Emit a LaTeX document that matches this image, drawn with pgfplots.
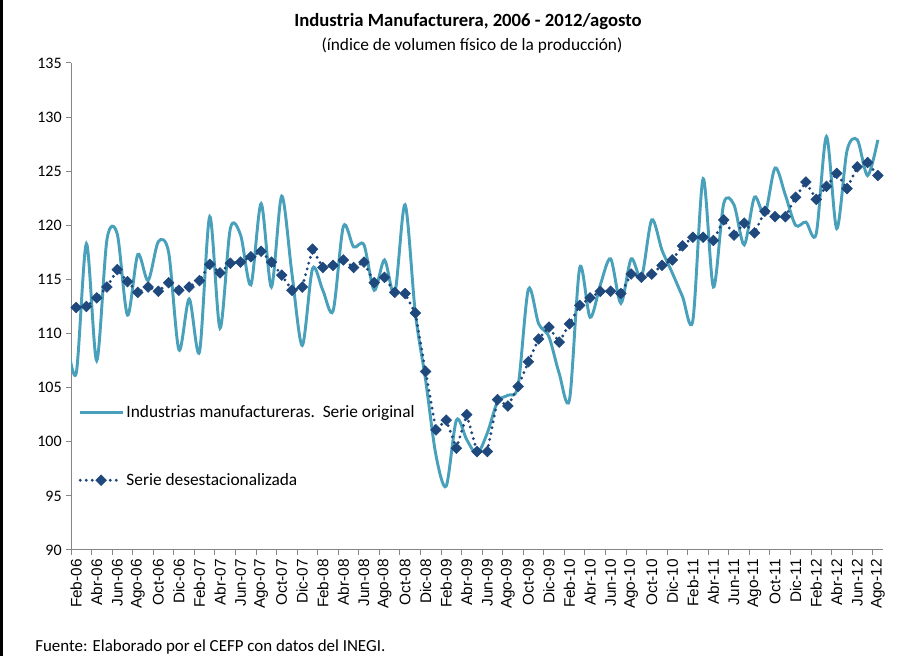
\documentclass[border=0pt]{standalone}
\usepackage{fontspec}
\setmainfont{Carlito}
\newfontfamily\arialf{Liberation Sans}
\usepackage{pgfplots}
\pgfplotsset{compat=1.18}
\usepackage{pgfplotstable}
\definecolor{orig}{RGB}{72,160,186}
\definecolor{desest}{RGB}{31,73,125}
\definecolor{axgray}{RGB}{134,134,134}

\pgfplotstableread{
i orig des
0 110.0 113.4
1 106.3 112.4
2 118.3 112.5
3 107.5 113.3
4 118.7 114.3
5 119.2 115.9
6 111.7 114.8
7 117.3 113.8
8 114.9 114.3
9 118.5 113.9
10 117.5 114.7
11 108.5 114.0
12 113.2 114.3
13 108.3 114.9
14 120.8 116.4
15 110.5 115.6
16 119.7 116.5
17 119.1 116.6
18 114.5 117.1
19 122.0 117.6
20 114.3 116.6
21 122.7 115.4
22 115.5 114.0
23 108.9 114.3
24 116.0 117.8
25 114.0 116.1
26 112.1 116.3
27 119.9 116.8
28 118.0 116.1
29 118.2 116.6
30 114.0 114.7
31 116.8 115.2
32 113.7 113.8
33 121.9 113.7
34 111.9 111.9
35 105.7 106.5
36 98.8 101.1
37 95.9 102.0
38 102.0 99.4
39 100.2 102.5
40 98.9 99.1
41 100.8 99.1
42 103.7 103.9
43 104.3 103.3
44 105.2 105.1
45 114.1 107.4
46 110.9 109.5
47 109.7 110.6
48 106.3 109.2
49 103.9 110.9
50 116.1 112.6
51 111.5 113.3
52 114.5 113.9
53 116.9 113.9
54 112.8 113.7
55 116.9 115.5
56 115.2 115.2
57 120.5 115.5
58 117.7 116.3
59 115.6 116.8
60 113.4 118.1
61 111.2 118.9
62 124.3 118.9
63 114.3 118.6
64 122.0 120.5
65 121.9 119.1
66 118.2 120.2
67 122.6 119.3
68 121.0 121.3
69 125.3 120.8
70 122.8 120.8
71 120.0 122.6
72 120.3 124.0
73 119.2 122.4
74 128.2 123.6
75 119.7 124.8
76 126.9 123.4
77 127.9 125.4
78 124.6 125.8
79 127.9 124.6
}\datatable

\begin{document}
\begin{tikzpicture}
\path[use as bounding box] (0,0) rectangle (674.25pt,492pt);
\draw[black, line width=2pt] (1pt,0) -- (1pt,492pt);
\node[font=\bfseries\fontsize{14}{16}\selectfont] at (351pt,475.5pt) {Industria Manufacturera, 2006 - 2012/agosto};
\node[font=\fontsize{13}{15}\selectfont] at (354pt,457.5pt) {(índice de volumen físico de la producción)};
\node[font=\fontsize{12.7}{14}\selectfont, anchor=west, inner sep=0pt] at (26.25pt,6.75pt) {Fuente: Elaborado por el CEFP con datos del INEGI.};
\begin{axis}[
  at={(53.25pt,79.5pt)}, anchor=south west,
  scale only axis, width=609pt, height=365.25pt,
  xmin=0.5, xmax=79.5, ymin=90, ymax=135,
  ytick={90,95,...,135},
  xtick={1,3,...,79},
  xticklabels={Feb-06,Abr-06,Jun-06,Ago-06,Oct-06,Dic-06,
    Feb-07,Abr-07,Jun-07,Ago-07,Oct-07,Dic-07,
    Feb-08,Abr-08,Jun-08,Ago-08,Oct-08,Dic-08,
    Feb-09,Abr-09,Jun-09,Ago-09,Oct-09,Dic-09,
    Feb-10,Abr-10,Jun-10,Ago-10,Oct-10,Dic-10,
    Feb-11,Abr-11,Jun-11,Ago-11,Oct-11,Dic-11,
    Feb-12,Abr-12,Jun-12,Ago-12},
  minor xtick={0.5,2.5,...,78.5},
  major x tick style={draw=none},
  axis x line*=bottom, axis y line*=left,
  axis line style={axgray, line width=0.75pt},
  tick style={axgray, line width=0.75pt},
  tick align=outside,
  major tick length=3.5pt, minor tick length=3.5pt,
  xticklabel style={rotate=90, anchor=east, font=\arialf\fontsize{11.5}{13}\selectfont},
  yticklabel style={font=\fontsize{12}{14}\selectfont},
  /pgf/number format/assume math mode=true,
  legend style={at={(0.009,0.302)}, anchor=north west, draw=none, fill=none,
    font=\fontsize{13}{15}\selectfont, row sep=36pt, inner sep=0pt},
  legend cell align=left,
  legend image code/.code={\draw[mark repeat=2, mark phase=2, #1] plot coordinates {(0pt,0pt) (15.75pt,0pt) (31.5pt,0pt)};},
]
\addplot[orig, line width=2.2pt, smooth, no markers] table[x=i,y=orig]{\datatable};
\addlegendentry{Industrias manufactureras.\ \ Serie original}
\addplot[desest, line width=2.4pt, dash pattern=on 0pt off 4.5pt, line cap=round,
  mark=square*, mark size=2.8pt,
  mark options={rotate=45, solid, fill=desest, draw=desest, line width=0.5pt}]
  table[x=i,y=des]{\datatable};
\addlegendentry{Serie desestacionalizada}
\end{axis}
\end{tikzpicture}
\end{document}
